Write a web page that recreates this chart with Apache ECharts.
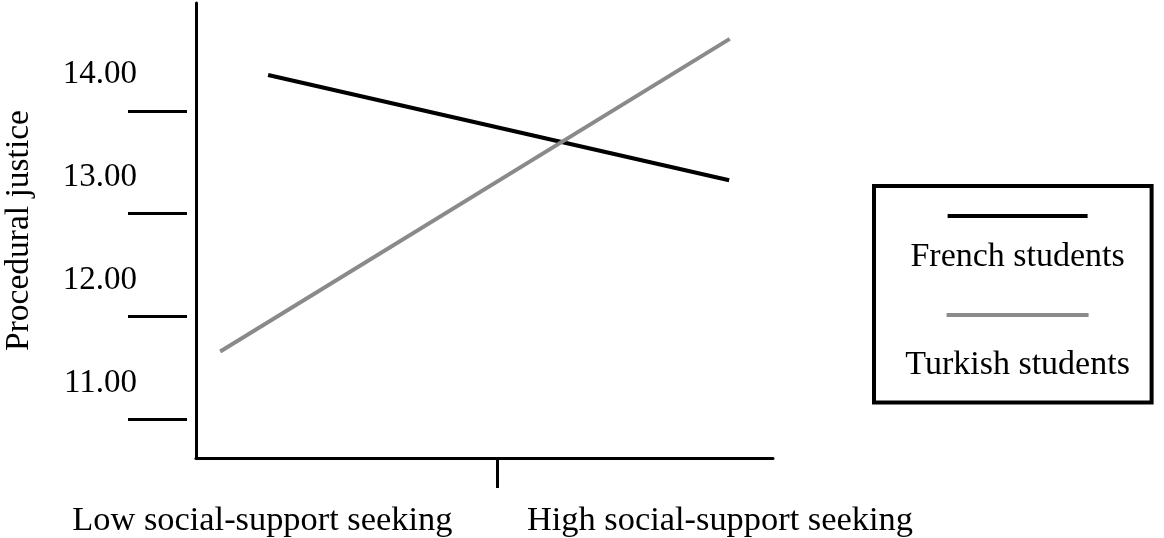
<!DOCTYPE html>
<html>
<head>
<meta charset="utf-8">
<script src="https://cdn.jsdelivr.net/npm/echarts@6/dist/echarts.min.js"></script>
<style>
  html, body { margin: 0; padding: 0; background: #fff; }
  #chart { width: 1164px; height: 538px; }
</style>
</head>
<body>
<div id="chart"></div>
<script>
  // x is a 0..10 position along the axis, y is procedural justice
  let french = [[1.25, 13.99], [9.24, 12.97]]
  let turkish = [[0.42, 11.31], [9.25, 14.34]]
  let seriesNames = ['French students', 'Turkish students']
  let yLabelValues = [11, 12, 13, 14]
  let yTickValues = [10.65, 11.65, 12.65, 13.64]
  let xLabelValues = [1.15, 9.08]
  let xLabelTexts = ['Low social-support seeking', 'High social-support seeking']
  let xTickValues = [5.22]

  let font = 'Liberation Serif'
  let yMin = 10.278
  let yMax = 14.688

  let myChart = echarts.init(document.getElementById('chart'))

  let option = {
    animation: false,
    grid: {
      left: 196,
      right: 391,
      top: 3,
      bottom: 80
    },
    legend: {
      orient: 'vertical',
      left: 874,
      top: 186,
      selectedMode: false,
      data: seriesNames,
      itemWidth: 0,
      itemGap: 39,
      itemStyle: { opacity: 0 },
      lineStyle: { opacity: 0 },
      padding: [28, 19, 20, 18],
      borderColor: '#000',
      borderWidth: 4,
      backgroundColor: '#fff',
      formatter(name){
        if (name === seriesNames[0]) {
          return '{fr| }\n{t1|' + name + '}'
        }
        return '{tr| }\n{t2|' + name + '}'
      },
      textStyle: {
        color: '#000',
        fontFamily: font,
        fontSize: 34,
        rich: {
          fr: { width: 140, height: 4, lineHeight: 4, fontSize: 4, backgroundColor: '#000', align: 'center' },
          tr: { width: 142, height: 4, lineHeight: 4, fontSize: 4, backgroundColor: '#8a8a8a', align: 'center' },
          t1: { width: 230, fontSize: 34, lineHeight: 78, fontFamily: font, color: '#000', align: 'center' },
          t2: { width: 230, fontSize: 34, lineHeight: 97, fontFamily: font, color: '#000', align: 'center' }
        }
      }
    },
    xAxis: {
      type: 'value',
      min: 0,
      max: 10,
      splitLine: { show: false },
      axisLine: { show: true, lineStyle: { color: '#000', width: 3 } },
      axisTick: {
        show: true,
        customValues: xTickValues,
        length: 30,
        lineStyle: { color: '#000', width: 3 }
      },
      axisLabel: {
        customValues: xLabelValues,
        margin: 46,
        color: '#000',
        fontFamily: font,
        fontSize: 34.4,
        formatter(v){
          let i = xLabelValues.indexOf(v)
          return i >= 0 ? xLabelTexts[i] : ''
        }
      }
    },
    yAxis: [
      {
        type: 'value',
        min: yMin,
        max: yMax,
        position: 'left',
        splitLine: { show: false },
        axisLine: { show: true, lineStyle: { color: '#000', width: 3 } },
        axisTick: { show: false },
        axisLabel: {
          customValues: yLabelValues,
          margin: 59,
          padding: [6, 0, 0, 0],
          color: '#000',
          fontFamily: font,
          fontSize: 33,
          formatter(v){
            return v.toFixed(2)
          }
        },
        name: 'Procedural justice',
        nameLocation: 'middle',
        nameGap: 160,
        nameTextStyle: {
          color: '#000',
          fontFamily: font,
          fontSize: 33.5
        }
      },
      {
        // detached ticks, drawn a little left of the axis line
        type: 'value',
        min: yMin,
        max: yMax,
        position: 'left',
        offset: 9,
        splitLine: { show: false },
        axisLine: { show: false },
        axisTick: {
          show: true,
          customValues: yTickValues,
          length: 59,
          lineStyle: { color: '#000', width: 3 }
        },
        axisLabel: { show: false }
      }
    ],
    series: [
      {
        name: seriesNames[0],
        type: 'line',
        data: french,
        symbol: 'none',
        color: '#000',
        lineStyle: { color: '#000', width: 4 }
      },
      {
        name: seriesNames[1],
        type: 'line',
        data: turkish,
        symbol: 'none',
        color: '#8a8a8a',
        lineStyle: { color: '#8a8a8a', width: 4 }
      }
    ]
  }

  myChart.setOption(option)
</script>
</body>
</html>
